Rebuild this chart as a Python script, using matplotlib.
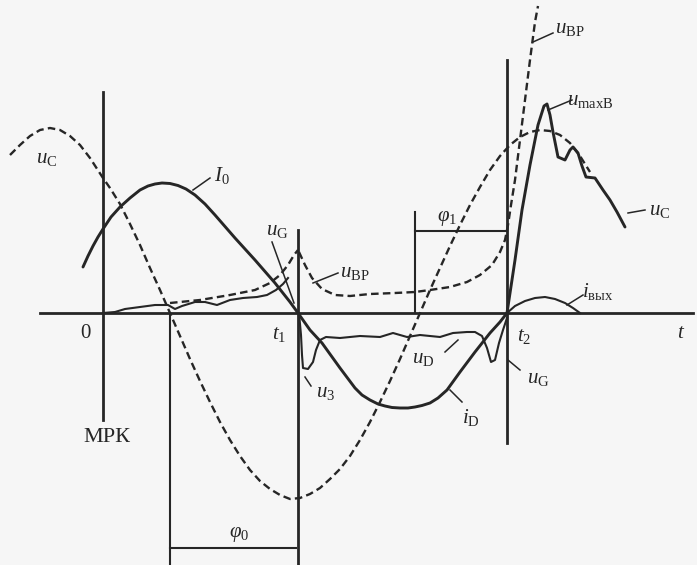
import numpy as np
import matplotlib.pyplot as plt

# ----------------------------------------------------------
# waveforms (time runs left to right, level measured downward
# from the top edge, time axis sits at level 313)
# ----------------------------------------------------------

AXIS_LEVEL = 313

# sinusoidal capacitor voltage (dashed)
uc_t = [10, 20, 30, 40, 50, 60, 70, 80, 90, 103, 110, 120, 130, 140, 150,
        160, 170, 180, 190, 200, 210, 220, 230, 240, 250, 260, 270, 280, 290,
        300, 310, 320, 330, 340, 350, 360, 370, 380, 390, 400, 410, 420, 430,
        440, 450, 460, 470, 480, 490, 500, 510, 520, 530, 540, 550, 560, 570,
        580, 590]
uc_v = [155, 145, 136, 130, 128, 130, 136, 145, 158, 178, 188, 204, 224, 245,
        268, 290, 313, 336, 359, 381, 402, 422, 440, 456, 470, 481, 489, 495,
        499, 498, 494, 488, 479, 469, 456, 440, 422, 402, 381, 359, 336, 313,
        290, 268, 246, 225, 205, 187, 170, 156, 145, 137, 132, 130, 131, 135,
        143, 156, 172]

# I0 / iD current (solid)
i_t = [83, 88, 93, 98, 103, 111, 120, 130, 140, 148, 155, 162, 170, 178, 186,
       195, 205, 215, 235, 255, 275, 290, 298, 310, 322, 340, 355, 362, 370,
       378, 385, 392, 400, 408, 415, 422, 430, 438, 447, 460, 475, 490, 500,
       507]
i_v = [267, 256, 246, 237, 229, 217, 207, 198, 190, 186, 184, 183, 183.5,
       185.5, 189, 195, 204, 215, 238, 260, 283, 302, 313, 330, 343, 368, 388,
       395, 400, 404, 406, 407.5, 408, 408, 407, 405.5, 403, 398, 390, 372,
       352, 333, 322, 313]

# uG ripple before t1
ug_t = [103, 115, 125, 140, 155, 168, 175, 182, 195, 205, 217, 230, 243, 257,
        267, 276, 283, 288]
ug_v = [313, 312, 309, 307, 305, 305, 309, 306, 302, 302, 305, 300, 298, 297,
        295, 290, 284, 278]

# recovery voltage, first and second branch (dashed)
ubp1_t = [170, 200, 230, 255, 270, 280, 288, 294, 298]
ubp1_v = [303, 300, 295, 290, 283, 275, 265, 255, 250]
ubp2_t = [299, 305, 312, 322, 335, 350, 370, 395, 415, 430, 450, 467, 480,
          492, 500, 505, 508, 511, 515, 520, 525, 530, 535, 538]
ubp2_v = [252, 265, 278, 289, 295, 296, 294, 293, 292, 290, 287, 282, 275,
          265, 252, 240, 225, 205, 180, 140, 100, 60, 22, 6]

# u3 / uD / uG between t1 and t2
ud_t = [299, 301, 302, 303, 308, 313, 316, 320, 326, 340, 360, 380, 393, 407,
        420, 440, 453, 467, 475, 482, 487, 491, 495, 499, 503, 507]
ud_v = [313, 335, 355, 368, 369, 362, 350, 340, 337, 338, 336, 337, 333, 337,
        335, 337, 333, 332, 332, 336, 348, 362, 360, 343, 330, 318]

# capacitor voltage after t2 (solid)
uc2_t = [507, 515, 522, 530, 538, 544, 547, 550, 553, 558, 565, 570, 573, 578,
         582, 586, 595, 603, 610, 617, 625]
uc2_v = [313, 260, 210, 165, 125, 106, 104, 115, 132, 157, 160, 150, 147, 153,
         166, 177, 178, 190, 200, 212, 227]

# output current after t2
iout_t = [507, 515, 525, 535, 545, 555, 565, 573, 580]
iout_v = [313, 306, 301, 298, 297, 299, 303, 308, 313]

INK = "#262626"

plt.rcParams["mathtext.fontset"] = "custom"
plt.rcParams["mathtext.rm"] = "Liberation Serif"
plt.rcParams["mathtext.it"] = "Liberation Serif:italic"
plt.rcParams["font.family"] = ["Liberation Serif", "DejaVu Serif"]

fig = plt.figure(figsize=(6.97, 5.65), dpi=100)
fig.patch.set_facecolor("#f6f6f6")
ax = fig.add_axes([0, 0, 1, 1])
ax.set_facecolor("#f6f6f6")
ax.set_xlim(0, 697)
ax.set_ylim(565, 0)
ax.axis("off")

dash = dict(color=INK, lw=1.7, dashes=(3.2, 1.8), solid_joinstyle="round")
solid = dict(color=INK, lw=2.1, solid_capstyle="round", solid_joinstyle="round")
fine = dict(color=INK, lw=1.5, solid_joinstyle="round")
thin = dict(color=INK, lw=1.1)

# time axis and marker lines
ax.plot([40, 693], [AXIS_LEVEL, AXIS_LEVEL], color=INK, lw=2.0)
ax.plot([103, 103], [92, 420], color=INK, lw=2.0)
ax.plot([298, 298], [230, 565], color=INK, lw=2.0)
ax.plot([507, 507], [60, 443], color=INK, lw=2.0)
ax.plot([170, 170], [AXIS_LEVEL, 565], color=INK, lw=1.5)
ax.plot([170, 296], [548, 548], color=INK, lw=1.5)
ax.plot([415, 415], [212, AXIS_LEVEL], color=INK, lw=1.5)
ax.plot([415, 507], [231, 231], color=INK, lw=1.5)

# curves
ax.plot(uc_t, uc_v, **dash)
ax.plot(ubp1_t, ubp1_v, **dash)
ax.plot(ubp2_t, ubp2_v, **dash)
ax.plot(i_t, i_v, **solid)
ax.plot(ug_t, ug_v, **fine)
ax.plot(ud_t, ud_v, **fine)
ax.plot(uc2_t, uc2_v, **solid)
ax.plot(iout_t, iout_v, **fine)

# leader lines
leaders = [
    ([193, 210], [190, 178]),
    ([272, 294], [242, 303]),
    ([313, 338], [283, 273]),
    ([533, 553], [42, 33]),
    ([548, 572], [110, 100]),
    ([628, 645], [213, 210]),
    ([567, 583], [305, 295]),
    ([445, 458], [352, 340]),
    ([508, 520], [360, 370]),
    ([305, 311], [377, 386]),
    ([450, 462], [390, 402]),
]
for lx, ly in leaders:
    ax.plot(lx, ly, **thin)

fs = 15
labels = [
    (47, 158, r"$u_{\mathrm{C}}$"),
    (222, 176, r"$I_{0}$"),
    (277, 230, r"$u_{\mathrm{G}}$"),
    (355, 272, r"$u_{\mathrm{ВР}}$"),
    (447, 219, r"$\varphi_{1}$"),
    (570, 28, r"$u_{\mathrm{ВР}}$"),
    (590, 100, r"$u_{\mathrm{maxВ}}$"),
    (660, 211, r"$u_{\mathrm{C}}$"),
    (598, 292, r"$i_{\mathrm{вых}}$"),
    (86, 333, r"$0$"),
    (279, 334, r"$t_{1}$"),
    (524, 336, r"$t_{2}$"),
    (681, 334, r"$t$"),
    (423, 358, r"$u_{\mathrm{D}}$"),
    (538, 379, r"$u_{\mathrm{G}}$"),
    (326, 392, r"$u_{3}$"),
    (471, 418, r"$i_{\mathrm{D}}$"),
    (239, 535, r"$\varphi_{0}$"),
]
for lx, ly, txt in labels:
    ax.text(lx, ly, txt, fontsize=fs, color=INK, ha="center", va="center")

ax.text(107, 437, "МРК", fontsize=16, color=INK, ha="center", va="center",
        family=["Liberation Serif", "DejaVu Serif"])

fig.savefig("out.png", dpi=100, facecolor=fig.get_facecolor())
